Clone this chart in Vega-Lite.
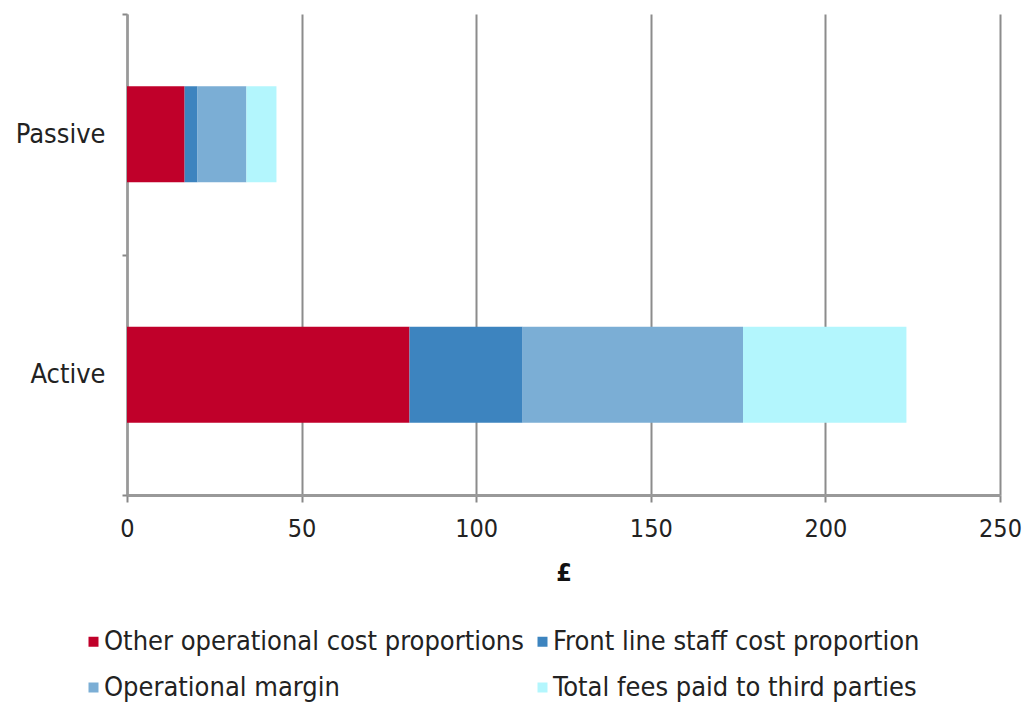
{
  "$schema": "https://vega.github.io/schema/vega-lite/v6.json",
  "autosize": "none",
  "width": 873,
  "height": 481,
  "padding": {"left": 127, "top": 14, "right": 33, "bottom": 209},
  "background": "white",
  "config": {
    "view": {"stroke": null},
    "font": "DejaVu Sans Condensed",
    "axis": {"labelFont": "DejaVu Sans Condensed", "titleFont": "DejaVu Sans Condensed"},
    "legend": {"labelFont": "DejaVu Sans Condensed"}
  },
  "data": {
    "values": [
      {"fund": "Passive", "component": "Other operational cost proportions", "idx": 1, "value": 16.5},
      {"fund": "Passive", "component": "Front line staff cost proportion", "idx": 2, "value": 3.7},
      {"fund": "Passive", "component": "Operational margin", "idx": 3, "value": 14.0},
      {"fund": "Passive", "component": "Total fees paid to third parties", "idx": 4, "value": 8.6},
      {"fund": "Active", "component": "Other operational cost proportions", "idx": 1, "value": 80.9},
      {"fund": "Active", "component": "Front line staff cost proportion", "idx": 2, "value": 32.4},
      {"fund": "Active", "component": "Operational margin", "idx": 3, "value": 63.1},
      {"fund": "Active", "component": "Total fees paid to third parties", "idx": 4, "value": 46.8}
    ]
  },
  "mark": {"type": "bar", "height": {"band": 0.4}},
  "encoding": {
    "y": {
      "field": "fund",
      "type": "nominal",
      "sort": ["Passive", "Active"],
      "scale": {"paddingInner": 0, "paddingOuter": 0},
      "axis": {
        "title": null,
        "labelFontSize": 27,
        "labelColor": "#222",
        "labelPadding": 17,
        "tickBand": "extent",
        "tickSize": 5,
        "tickColor": "#888",
        "tickWidth": 2,
        "domainColor": "#999",
        "domainWidth": 2.5,
        "grid": false
      }
    },
    "x": {
      "field": "value",
      "type": "quantitative",
      "stack": "zero",
      "scale": {"domain": [0, 250], "nice": false},
      "axis": {
        "values": [0, 50, 100, 150, 200, 250],
        "title": "£",
        "titleFontSize": 25,
        "titleFontWeight": "bold",
        "titleColor": "#111",
        "titlePadding": 19,
        "labelFontSize": 25,
        "labelColor": "#222",
        "labelPadding": 14,
        "labelFlush": false,
        "tickSize": 7,
        "tickColor": "#888",
        "tickWidth": 2,
        "domainColor": "#999",
        "domainWidth": 3,
        "grid": true,
        "gridColor": "#8c8c8c",
        "gridWidth": 2
      }
    },
    "color": {
      "field": "component",
      "type": "nominal",
      "scale": {
        "domain": ["Other operational cost proportions", "Front line staff cost proportion", "Operational margin", "Total fees paid to third parties"],
        "range": ["#C0002A", "#3D84BF", "#7BAED5", "#B3F6FD"]
      },
      "legend": {
        "title": null,
        "orient": "none",
        "legendX": -47,
        "legendY": 614,
        "direction": "horizontal",
        "columns": 2,
        "columnPadding": 5,
        "rowPadding": 18,
        "symbolType": "square",
        "symbolSize": 100,
        "symbolStrokeWidth": 0,
        "labelFontSize": 27,
        "labelColor": "#222",
        "labelOffset": -3,
        "labelLimit": 600
      }
    },
    "order": {"field": "idx", "type": "quantitative"}
  }
}
